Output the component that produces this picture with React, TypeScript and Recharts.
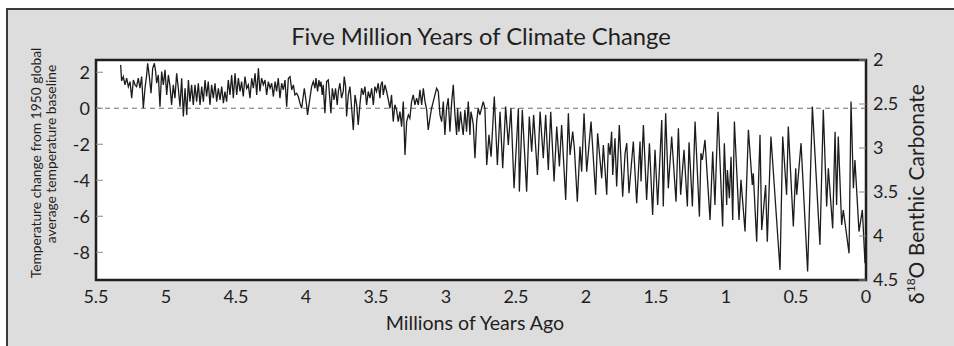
import React from 'react'
import {
  LineChart,
  Line,
  XAxis,
  YAxis,
  CartesianGrid,
  ReferenceLine,
  ReferenceArea
} from 'recharts'

// [age in ka, temperature change in °C]
const earlyPliocene: Array<[number, number]> = [
  [5324, 2.41], [5317, 1.52], [5305, 1.76], [5293, 1.3], [5281, 1.67], [5269, 1.2], [5257, 1.48],
  [5245, 0.56], [5233, 1.57], [5221, 1.3], [5210, 1.2], [5198, 1.67], [5186, 1.11], [5174, 1.76],
  [5162, 0.0], [5150, 1.11], [5138, 1.85], [5131, 2.5], [5119, 1.76], [5107, 0.83], [5095, 2.22],
  [5083, 2.5], [5074, 2.04], [5067, 1.39], [5055, 1.85], [5043, 0.09], [5031, 2.04], [5019, 1.3],
  [5007, 2.13], [4995, 0.74], [4983, 1.85], [4971, 1.2], [4960, 0.19], [4948, 1.3], [4936, 0.56],
  [4924, 1.94], [4912, 1.11], [4900, 0.09], [4888, 1.67], [4876, -0.46], [4864, 1.11], [4852, -0.37],
  [4840, 1.57], [4829, 0.37], [4817, 1.3], [4805, 0.19], [4793, 1.3], [4781, 0.37], [4769, 1.39],
  [4757, 0.19], [4745, 1.2], [4733, 0.37], [4721, 1.57], [4710, 0.65], [4698, 1.48], [4686, 0.19],
  [4674, 1.3], [4662, 0.56], [4650, 1.39], [4638, 0.37], [4626, 1.11], [4614, 0.46], [4602, 1.2],
  [4590, 0.28], [4579, 0.93], [4567, 0.37], [4555, 1.57], [4543, 0.74], [4531, 1.85], [4519, 0.56],
  [4507, 1.94], [4495, 0.74], [4483, 1.67], [4471, 0.93], [4460, 1.48], [4448, 0.65], [4436, 1.76],
  [4424, 1.11], [4412, 1.3], [4400, 0.56], [4388, 1.67], [4376, 1.11], [4364, 1.94], [4352, 0.74],
  [4340, 2.22], [4329, 0.93], [4317, 1.67], [4305, 1.3], [4293, 1.57], [4281, 0.74], [4269, 1.48],
  [4257, 1.11], [4245, 1.39], [4233, 0.65], [4221, 1.48], [4210, 0.93], [4198, 1.67], [4186, 0.56],
  [4174, 1.39], [4162, 1.02], [4150, 1.57], [4138, 0.09], [4126, 1.67], [4114, 1.76], [4102, 1.02],
  [4090, 1.3], [4079, 0.74], [4067, 0.83], [4055, 0.65], [4043, 0.28]
]

const latePliocene: Array<[number, number]> = [
  [4031, 0.0], [4012, 1.11], [3996, 0.19], [3989, -0.37], [3972, 0.56], [3960, 1.2], [3948, 1.48],
  [3936, 1.11], [3929, 1.67], [3917, 0.93], [3908, 1.57], [3900, 1.2], [3893, 1.48], [3884, 0.74],
  [3877, 1.3], [3865, -0.28], [3853, 1.48], [3841, 1.57], [3834, 0.93], [3822, -0.28], [3812, 1.11],
  [3800, 0.46], [3789, 1.11], [3777, 0.19], [3769, 0.93], [3758, 1.39], [3746, 0.56], [3734, 0.93],
  [3727, 1.76], [3717, 1.2], [3710, -0.46], [3698, 0.74], [3686, 1.2], [3674, 0.0], [3662, -1.2],
  [3650, 0.74], [3638, 0.19], [3627, -0.93], [3615, 0.19], [3603, 1.11], [3591, 0.74], [3579, 1.2],
  [3567, 0.19], [3555, 0.93], [3543, 0.56], [3531, 1.11], [3519, 0.19], [3508, 1.2], [3496, 0.93],
  [3484, 1.39], [3472, 0.56], [3465, 1.3], [3455, 1.48], [3448, 0.74], [3436, 1.3], [3424, 0.93],
  [3412, 0.46], [3400, 0.0], [3389, 0.74], [3377, -0.74], [3365, 0.19], [3353, -0.09], [3341, -0.74],
  [3329, -0.19], [3317, -1.02], [3305, 0.37], [3293, -2.59], [3281, -0.74], [3269, -0.37], [3258, -0.56],
  [3246, 0.37], [3234, 0.74], [3222, 0.19], [3210, 0.56], [3198, 0.19], [3186, 1.02], [3174, 0.19],
  [3162, 1.11], [3150, 0.37], [3138, -0.09], [3127, -1.2], [3115, -0.56], [3103, 0.0], [3091, 0.37],
  [3079, 0.74], [3067, 1.11], [3055, 0.93], [3043, -0.37], [3031, -0.74], [3019, 0.37], [3008, -1.48],
  [2996, 0.0], [2984, 0.56], [2972, -1.3], [2960, 0.28], [2948, 1.3], [2936, -0.37], [2924, -1.48],
  [2917, 0.0], [2908, -1.3], [2896, -0.19], [2889, -0.74], [2877, -1.48], [2865, -0.09], [2853, -1.3],
  [2841, 0.37], [2829, -1.48], [2822, -0.19], [2812, -0.56], [2805, -0.93], [2793, -2.78], [2781, -0.74],
  [2770, 0.0], [2758, -0.37], [2746, 0.0], [2734, 0.37], [2722, 0.0]
]

const earlyPleistocene: Array<[number, number]> = [
  [2709, -3.15], [2693, -1.48], [2678, -2.69], [2655, 0.65], [2633, -3.15], [2614, -0.19], [2595, -3.33],
  [2574, 0.09], [2555, -2.04], [2536, 0.0], [2514, -4.44], [2483, 0.0], [2476, -4.63], [2455, -0.09],
  [2424, -4.63], [2405, -0.46], [2388, -2.41], [2374, -0.37], [2347, -3.7], [2328, -0.19], [2305, -2.78],
  [2288, -0.37], [2269, -3.43], [2252, -0.19], [2228, -4.07], [2209, -1.02], [2190, -3.24], [2174, -0.93],
  [2145, -5.09], [2126, -0.28], [2114, -2.59], [2095, -1.3], [2083, -2.22], [2062, -5.19], [2043, -2.13],
  [2031, -3.52], [2014, -0.28], [1995, -3.52], [1964, -0.74], [1931, -4.81], [1917, -1.39], [1888, -3.89],
  [1876, -2.04], [1852, -4.81], [1840, -1.94], [1828, -2.59], [1817, -1.3], [1809, -3.7], [1793, -1.67],
  [1781, -4.35], [1762, -0.93], [1738, -4.91], [1721, -2.5], [1709, -1.94], [1693, -4.72], [1662, -1.85],
  [1638, -5.28], [1614, -1.85], [1607, -4.07], [1590, -0.93], [1567, -5.09], [1547, -1.94], [1524, -5.93],
  [1507, -2.31], [1488, -5.37], [1459, -0.65], [1448, -5.46], [1431, -0.28], [1412, -4.44], [1388, -1.57]
]

const latePleistocene: Array<[number, number]> = [
  [1357, -5.19], [1340, -1.11], [1324, -4.81], [1300, -2.31], [1276, -5.46], [1264, -1.89], [1240, -5.46],
  [1221, -0.74], [1190, -6.02], [1179, -2.5], [1169, -2.87], [1150, -1.76], [1114, -6.2], [1095, -2.41],
  [1079, -5.37], [1057, -0.19], [1024, -6.57], [1012, -1.94], [995, -5.37], [990, -3.43], [976, -5.0],
  [964, -2.69], [952, -6.2], [940, -0.74], [907, -6.2], [893, -3.98], [864, -6.85], [840, -1.2],
  [812, -4.26], [805, -3.61], [781, -7.41], [757, -1.48], [745, -6.76], [717, -4.26], [705, -7.41],
  [679, -1.57], [614, -8.98], [595, -1.57], [567, -4.81], [555, -1.02], [519, -6.57], [502, -3.33],
  [495, -4.81], [464, -1.94], [417, -9.07], [383, 0.09], [329, -7.59], [305, -0.09], [281, -5.46],
  [269, -3.33], [238, -6.67], [221, -1.3], [210, -5.37], [198, -1.57], [174, -6.48], [162, -5.65],
  [121, -8.06], [107, 0.37], [90, -4.44], [79, -2.87], [50, -6.85], [26, -5.65], [7, -8.61]
]

const ageTicks = [5.5, 5, 4.5, 4, 3.5, 3, 2.5, 2, 1.5, 1, 0.5, 0]
const tempTicks = [-8, -6, -4, -2, 0, 2]
const d18oTicks = [2, 2.5, 3, 3.5, 4, 4.5]

const TEMP_MIN = -9.54
const TEMP_MAX = 2.68

const data = [...earlyPliocene, ...latePliocene, ...earlyPleistocene, ...latePleistocene].map(
  ([ka, temp]) => ({ age: ka / 1000, temp })
)

const FONT = 'Lato, "Open Sans", sans-serif'
const tickStyle = { fill: '#1f1f1f', fontSize: 18, fontFamily: FONT }

export default function App() {
  return (
    <div style={{ position: 'absolute', left: 0, top: 0, width: 954, height: 346, background: '#fff' }}>
      {/* grey panel behind the figure */}
      <div
        style={{
          position: 'absolute',
          left: 6,
          top: 8,
          width: 948,
          height: 338,
          background: '#dddddd',
          borderTop: '2px solid #3a3a3a',
          borderLeft: '2px solid #3a3a3a',
          boxSizing: 'border-box'
        }}
      />
      <div style={{ position: 'absolute', left: 0, top: 0 }}>
        <LineChart
          width={954}
          height={346}
          data={data}
          margin={{ top: 60, right: 38, left: 46, bottom: 36 }}
        >
          <ReferenceArea
            yAxisId="left"
            x1={5.5}
            x2={0}
            y1={TEMP_MIN}
            y2={TEMP_MAX}
            fill="#ffffff"
            fillOpacity={1}
            stroke="none"
          />
          <CartesianGrid
            yAxisId="left"
            horizontal={false}
            stroke="#b5b5b5"
            strokeDasharray="1 2"
          />
          <XAxis
            dataKey="age"
            type="number"
            domain={[0, 5.5]}
            reversed
            ticks={ageTicks}
            interval={0}
            allowDataOverflow
            axisLine={false}
            tickLine={false}
            tickSize={0}
            tickMargin={10}
            height={30}
            tick={tickStyle}
          />
          <YAxis
            yAxisId="left"
            type="number"
            domain={[TEMP_MIN, TEMP_MAX]}
            ticks={tempTicks}
            interval={0}
            allowDataOverflow
            axisLine={false}
            tickLine={{ stroke: '#8a8a8a' }}
            tickSize={-7}
            tickMargin={13}
            width={50}
            tick={tickStyle}
          />
          <YAxis
            yAxisId="right"
            orientation="right"
            type="number"
            domain={[2, 4.5]}
            reversed
            ticks={d18oTicks}
            interval={0}
            allowDataOverflow
            axisLine={false}
            tickLine={{ stroke: '#8a8a8a' }}
            tickSize={-7}
            tickMargin={14}
            width={50}
            tick={{ ...tickStyle, textAnchor: 'start' }}
          />
          <ReferenceLine yAxisId="left" y={0} stroke="#6f6f6f" strokeDasharray="5 4" />
          <Line
            yAxisId="left"
            type="linear"
            dataKey="temp"
            stroke="#1c1c1c"
            strokeWidth={1.3}
            dot={false}
            isAnimationActive={false}
          />
          <ReferenceArea
            yAxisId="left"
            x1={5.5}
            x2={0}
            y1={TEMP_MIN}
            y2={TEMP_MAX}
            fill="none"
            stroke="#1f1f1f"
            strokeWidth={2.5}
          />
        </LineChart>
      </div>
      <svg
        width={954}
        height={346}
        style={{ position: 'absolute', left: 0, top: 0, pointerEvents: 'none' }}
        fontFamily={FONT}
        fill="#1f1f1f"
      >
        <text x={481} y={45} textAnchor="middle" fontSize={23.8}>
          Five Million Years of Climate Change
        </text>
        <text x={475} y={330} textAnchor="middle" fontSize={19.6}>
          Millions of Years Ago
        </text>
        <text transform="translate(41,163) rotate(-90)" textAnchor="middle" fontSize={13.8}>
          Temperature change from 1950 global
        </text>
        <text transform="translate(56,154) rotate(-90)" textAnchor="middle" fontSize={13.8}>
          average temperature baseline
        </text>
        <text transform="translate(924,194) rotate(-90)" textAnchor="middle" fontSize={21}>
          δ<tspan fontSize={12} dy={-9}>18</tspan>
          <tspan dy={9}>O Benthic Carbonate</tspan>
        </text>
      </svg>
    </div>
  )
}
